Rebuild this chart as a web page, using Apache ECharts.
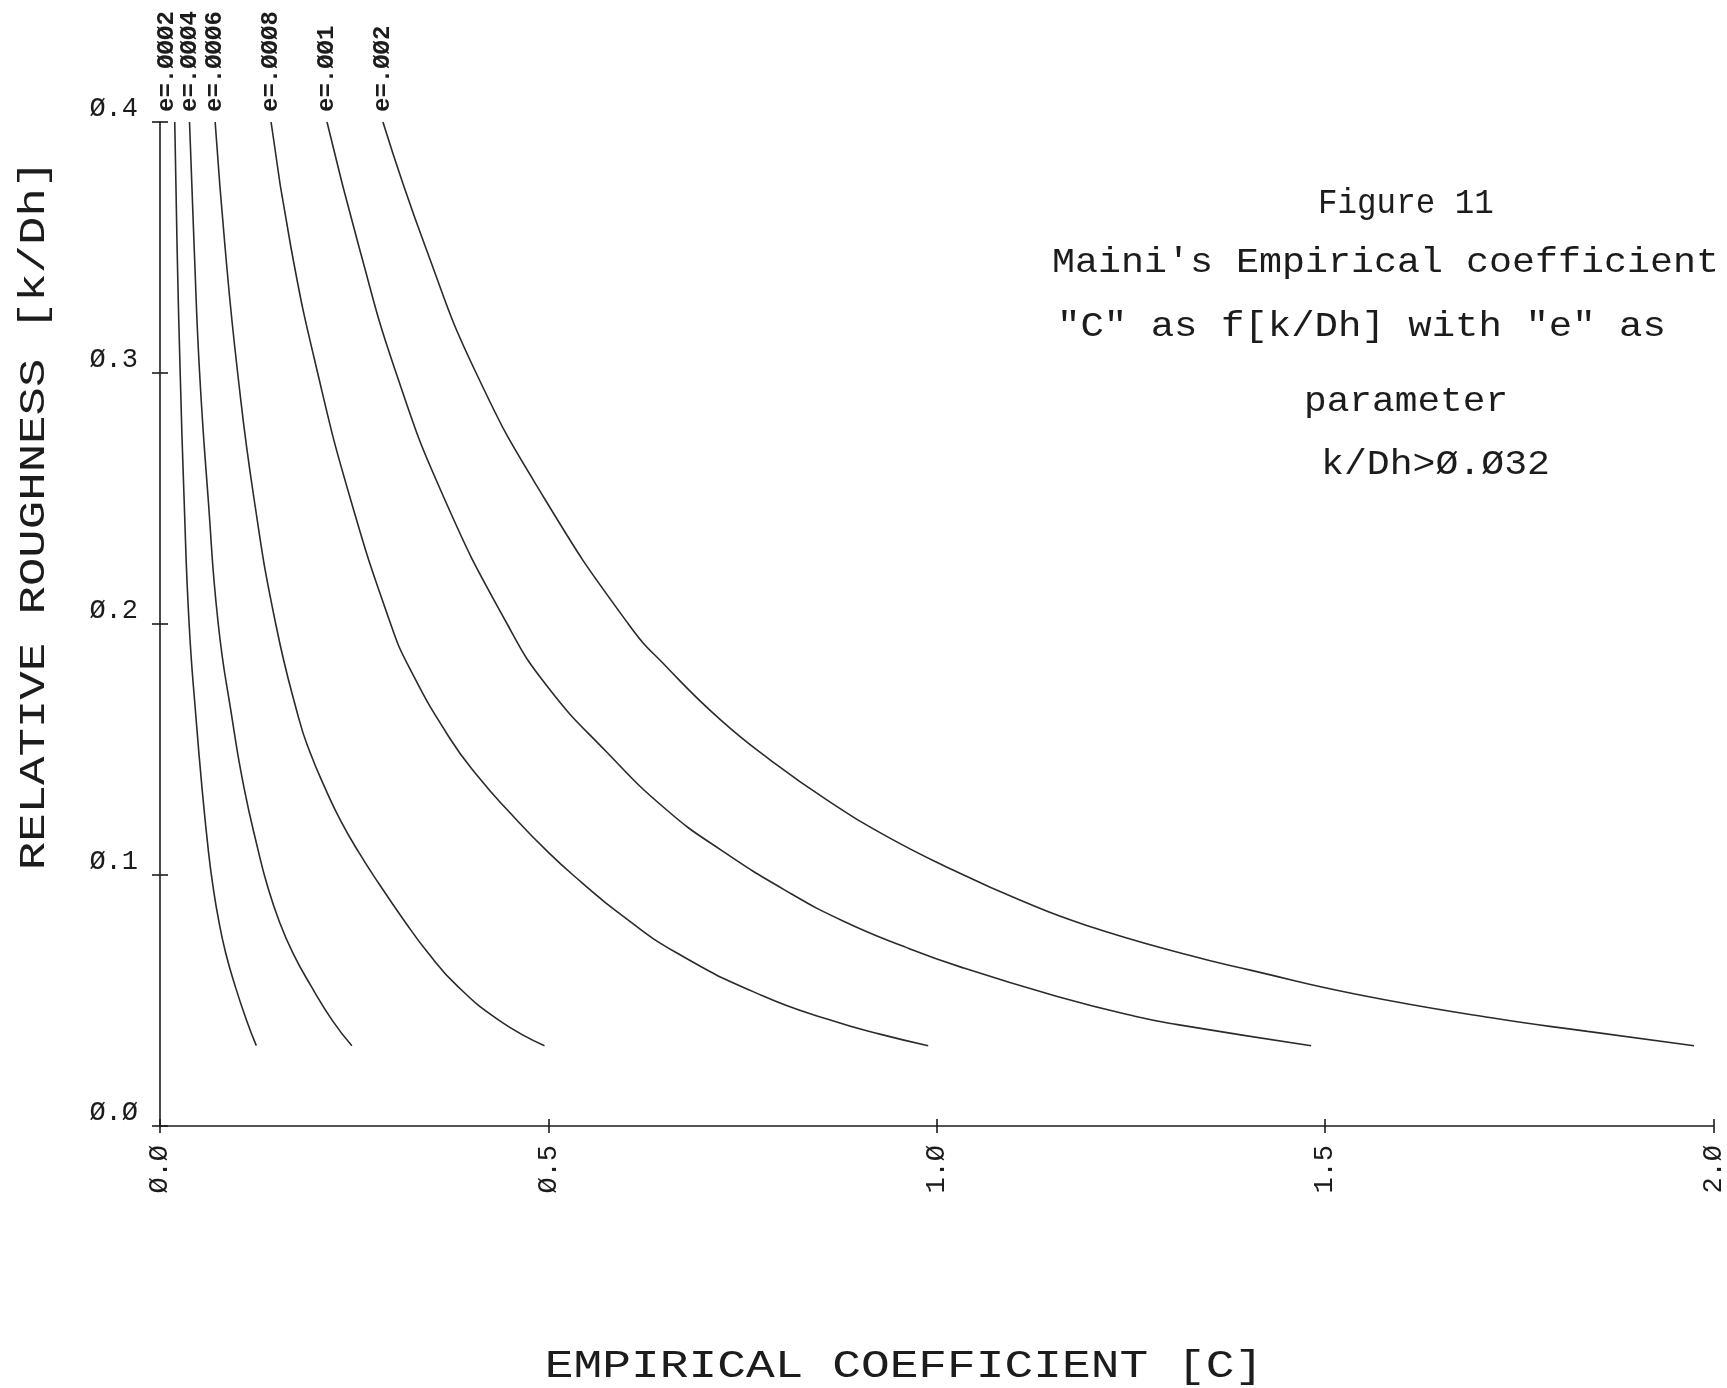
<!DOCTYPE html>
<html>
<head>
<meta charset="utf-8">
<script src="https://cdn.jsdelivr.net/npm/echarts@6/dist/echarts.min.js"></script>
<style>
  html, body { margin: 0; padding: 0; background: #ffffff; }
  #chart { width: 1727px; height: 1388px; }
</style>
</head>
<body>
<div id="chart"></div>
<script>
// ---- data (x = empirical coefficient C, y = relative roughness k/Dh) ----
const curveLabels = ['e=.ØØØ2', 'e=.ØØØ4', 'e=.ØØØ6', 'e=.ØØØ8', 'e=.ØØ1', 'e=.ØØ2'];

const kDh_e0002 = [0.4, 0.35, 0.3, 0.25, 0.2, 0.162, 0.135, 0.109, 0.096, 0.082, 0.069, 0.056, 0.042, 0.032];
const C_e0002   = [0.019, 0.022, 0.026, 0.031, 0.0375, 0.0465, 0.054, 0.0625, 0.068, 0.0755, 0.0845, 0.0965, 0.1115, 0.124];

const kDh_e0004 = [0.4, 0.35, 0.3, 0.25, 0.2, 0.162, 0.135, 0.109, 0.096, 0.082, 0.069, 0.056, 0.042, 0.032];
const C_e0004   = [0.038, 0.044, 0.051, 0.062, 0.075, 0.093, 0.108, 0.127, 0.138, 0.153, 0.171, 0.194, 0.222, 0.247];

const kDh_e0006 = [0.4, 0.35, 0.3, 0.25, 0.2, 0.162, 0.149, 0.135, 0.122, 0.109, 0.096, 0.082, 0.069, 0.056, 0.042, 0.032];
const C_e0006   = [0.071, 0.0838, 0.1, 0.121, 0.149, 0.179, 0.193, 0.212, 0.232, 0.256, 0.283, 0.314, 0.345, 0.382, 0.437, 0.495];

const kDh_e0008 = [0.4, 0.35, 0.3, 0.25, 0.2, 0.182, 0.155, 0.139, 0.125, 0.109, 0.097, 0.085, 0.069, 0.052, 0.042, 0.0365, 0.032];
const C_e0008   = [0.143, 0.1686, 0.203, 0.245, 0.297, 0.322, 0.372, 0.41, 0.45, 0.5, 0.543, 0.59, 0.665, 0.775, 0.865, 0.928, 0.989];

const kDh_e001  = [0.4, 0.35, 0.3, 0.25, 0.2, 0.175, 0.149, 0.126, 0.11, 0.093, 0.0816, 0.0716, 0.063, 0.0517, 0.0437, 0.0404, 0.032];
const C_e001    = [0.215, 0.2564, 0.304, 0.366, 0.447, 0.499, 0.575, 0.652, 0.722, 0.81, 0.88, 0.957, 1.034, 1.154, 1.255, 1.31, 1.482];

const kDh_e002  = [0.4, 0.35, 0.3, 0.25, 0.2, 0.182, 0.162, 0.146, 0.13, 0.1155, 0.102, 0.09, 0.08, 0.068, 0.062, 0.0525, 0.043, 0.0377, 0.032];
const C_e002    = [0.287, 0.342, 0.407, 0.495, 0.603, 0.655, 0.721, 0.785, 0.858, 0.935, 1.021, 1.107, 1.192, 1.325, 1.405, 1.54, 1.716, 1.838, 1.975];

const xTicks = [0, 0.5, 1.0, 1.5, 2.0];
const yTicks = [0, 0.1, 0.2, 0.3, 0.4];

const titleLines = [
  'Figure 11',
  "Maini's Empirical coefficient",
  '"C" as f[k/Dh] with "e" as',
  'parameter',
  'k/Dh>Ø.Ø32'
];
const xAxisTitle = 'EMPIRICAL COEFFICIENT [C]';
const yAxisTitle = 'RELATIVE ROUGHNESS [k/Dh]';

// ---- chart ----
const curves = [
  [kDh_e0002, C_e0002], [kDh_e0004, C_e0004], [kDh_e0006, C_e0006],
  [kDh_e0008, C_e0008], [kDh_e001, C_e001], [kDh_e002, C_e002]
];
const INK = '#1c1c1c';
const MONO = "'Liberation Mono', 'DejaVu Sans Mono', monospace";
const fmt = v => v.toFixed(1).replace(/0/g, 'Ø');

const chart = echarts.init(document.getElementById('chart'), null, { renderer: 'canvas' });

const axisCommonX = {
  type: 'value', min: xTicks[0], max: xTicks[xTicks.length - 1], interval: 0.5,
  position: 'bottom', splitLine: { show: false }
};
const axisCommonY = {
  type: 'value', min: yTicks[0], max: yTicks[yTicks.length - 1], interval: 0.1,
  position: 'left', splitLine: { show: false }
};

const series = curves.map(([k, c], idx) => ({
  type: 'line',
  name: curveLabels[idx],
  xAxisIndex: 0, yAxisIndex: 0,
  data: c.map((cv, i) => [cv, k[i]]),
  smooth: 0.5,
  symbol: 'circle',
  symbolSize: 0,
  showSymbol: true,
  lineStyle: { color: '#2b2b2b', width: 1.6 },
  itemStyle: { color: '#2b2b2b' },
  label: {
    show: true,
    formatter: p => (p.dataIndex === 0 ? curveLabels[idx] : ''),
    position: 'top',
    distance: 10,
    offset: idx === 0 ? [0, -8] : [0, 0],
    rotate: 90,
    align: 'left',
    verticalAlign: 'middle',
    fontFamily: MONO,
    fontWeight: 'bold',
    fontSize: 24,
    color: INK
  },
  emphasis: { disabled: true },
  animation: false
}));

chart.setOption({
  backgroundColor: '#ffffff',
  animation: false,
  grid: { left: 160, right: 12, top: 122, bottom: 262, containLabel: false },
  xAxis: [
    Object.assign({}, axisCommonX, {
      axisLine: { show: true, lineStyle: { color: INK, width: 1.6 } },
      axisTick: { show: true, length: 7, inside: false, lineStyle: { color: INK, width: 1.6 } },
      axisLabel: {
        show: true, rotate: 90, margin: 19, formatter: fmt,
        fontFamily: MONO, fontSize: 27, color: INK
      }
    }),
    Object.assign({}, axisCommonX, {
      axisLine: { show: false },
      axisTick: { show: true, length: 7, inside: true, lineStyle: { color: INK, width: 1.6 } },
      axisLabel: { show: false }
    })
  ],
  yAxis: [
    Object.assign({}, axisCommonY, {
      axisLine: { show: true, lineStyle: { color: INK, width: 1.6 } },
      axisTick: { show: true, length: 8, inside: false, lineStyle: { color: INK, width: 1.6 } },
      axisLabel: {
        show: true, margin: 22, formatter: fmt, verticalAlign: 'bottom',
        fontFamily: MONO, fontSize: 27, color: INK
      }
    }),
    Object.assign({}, axisCommonY, {
      axisLine: { show: false },
      axisTick: { show: true, length: 8, inside: true, lineStyle: { color: INK, width: 1.6 } },
      axisLabel: { show: false }
    })
  ],
  graphic: [
    {
      type: 'text', x: 34, y: 515, rotation: Math.PI / 2, scaleX: 1.28,
      style: { text: yAxisTitle, fontFamily: MONO, fontSize: 37, fill: INK, align: 'center', verticalAlign: 'middle' }
    },
    {
      type: 'text', x: 904, y: 1367, scaleX: 1.26,
      style: { text: xAxisTitle, fontFamily: MONO, fontSize: 38, fill: INK, align: 'center', verticalAlign: 'middle' }
    },
    { type: 'text', x: 1318, y: 204, scaleX: 0.93,
      style: { text: titleLines[0], fontFamily: MONO, fontSize: 35, fill: INK, align: 'left', verticalAlign: 'middle' } },
    { type: 'text', x: 1052, y: 263, scaleX: 1.095,
      style: { text: titleLines[1], fontFamily: MONO, fontSize: 35, fill: INK, align: 'left', verticalAlign: 'middle' } },
    { type: 'text', x: 1057, y: 327, scaleX: 1.115,
      style: { text: titleLines[2], fontFamily: MONO, fontSize: 35, fill: INK, align: 'left', verticalAlign: 'middle' } },
    { type: 'text', x: 1304, y: 402, scaleX: 1.08,
      style: { text: titleLines[3], fontFamily: MONO, fontSize: 35, fill: INK, align: 'left', verticalAlign: 'middle' } },
    { type: 'text', x: 1321, y: 465, scaleX: 1.09,
      style: { text: titleLines[4], fontFamily: MONO, fontSize: 35, fill: INK, align: 'left', verticalAlign: 'middle' } }
  ],
  series: series
});
</script>
</body>
</html>
